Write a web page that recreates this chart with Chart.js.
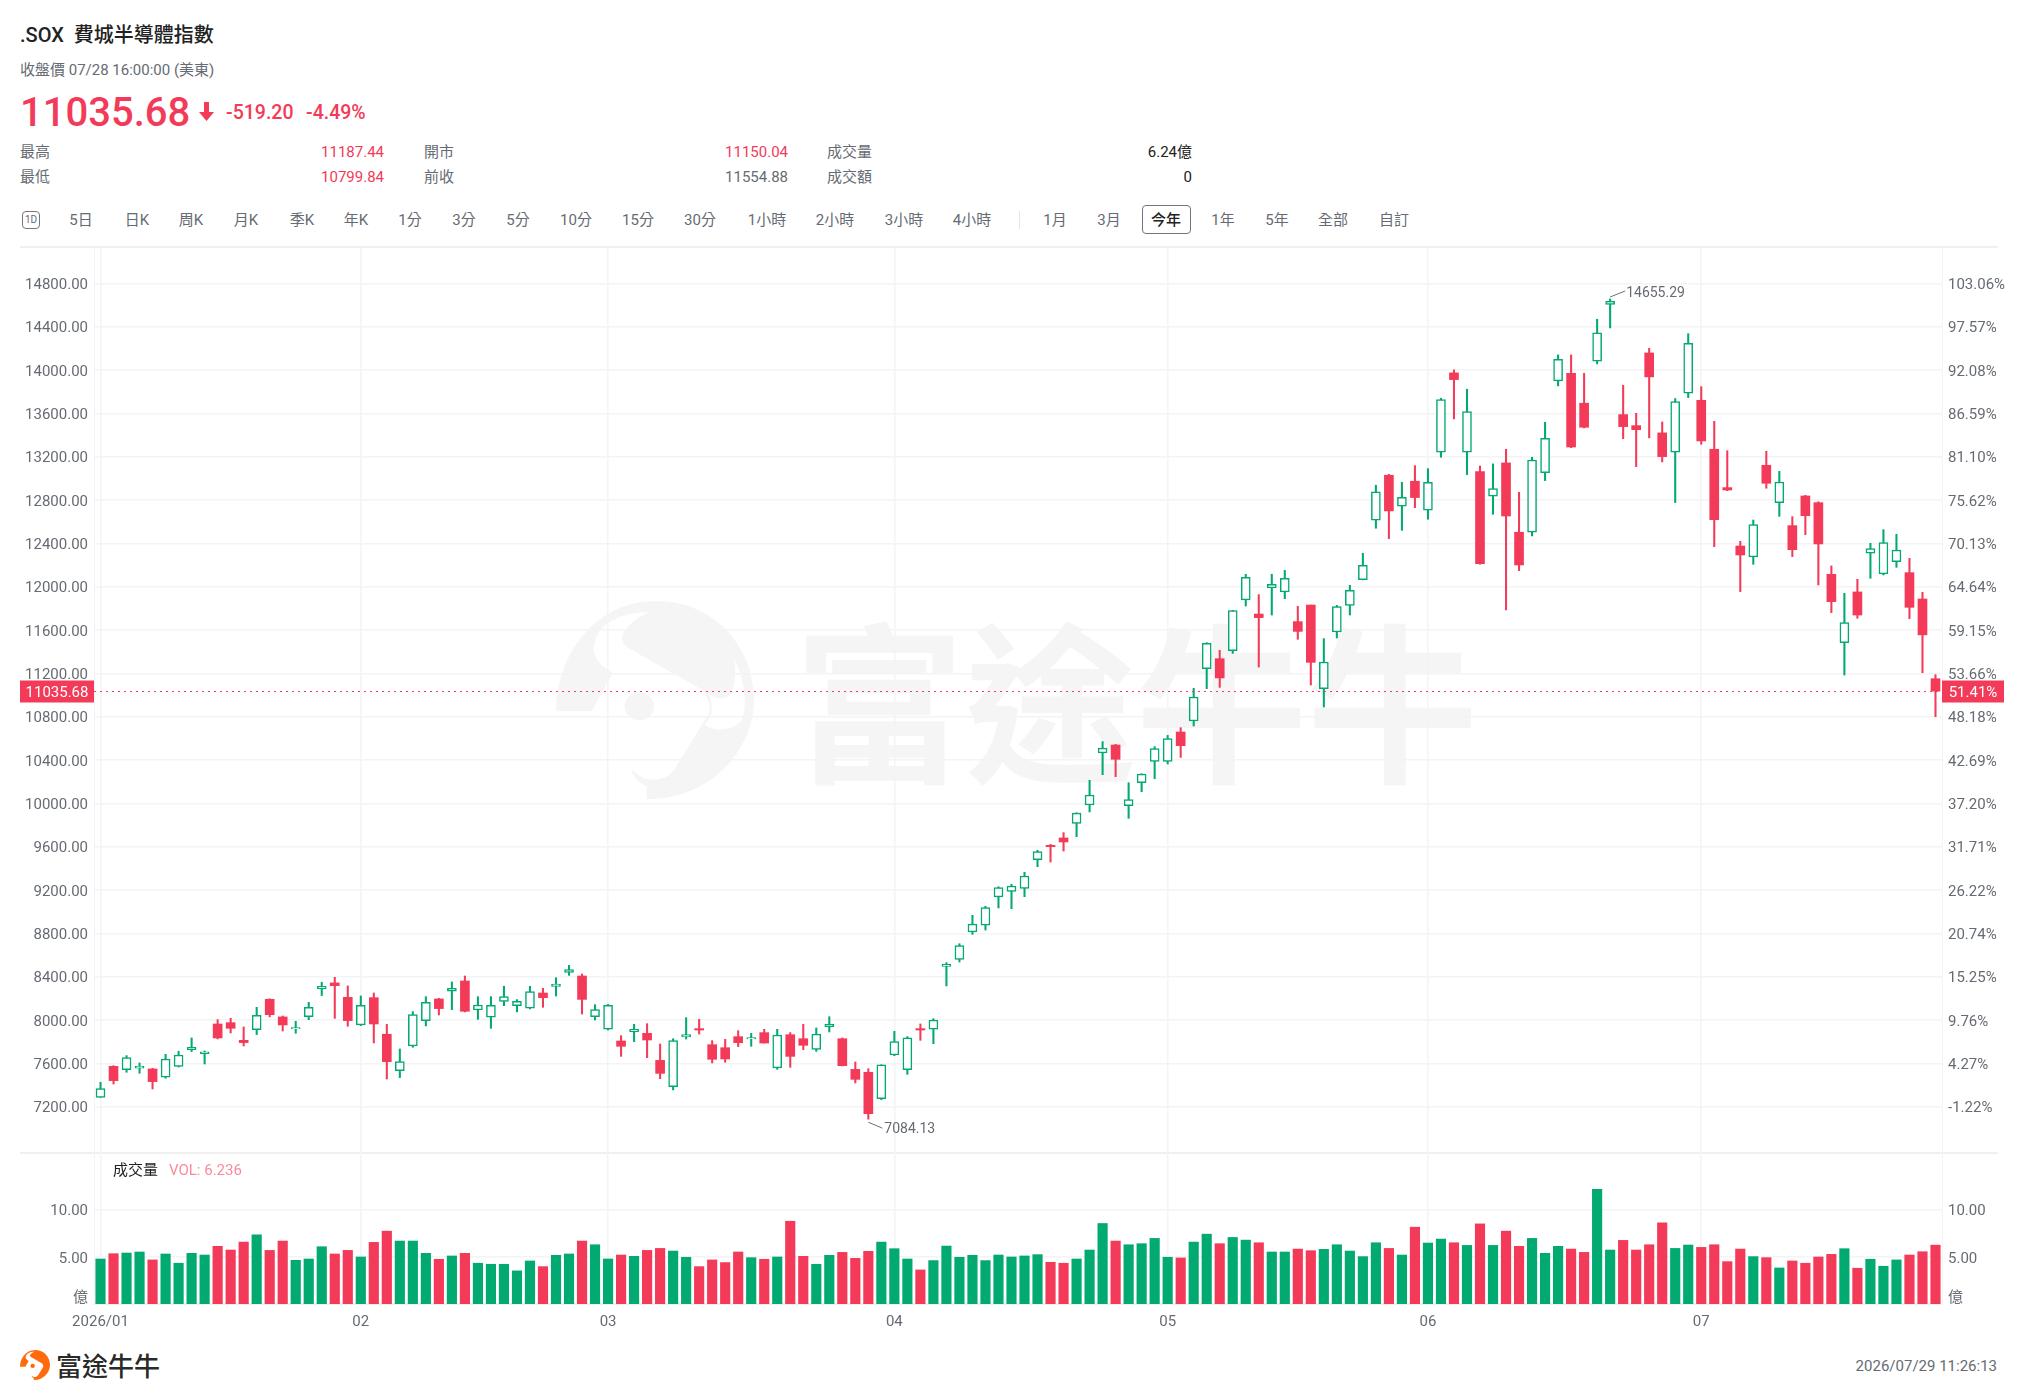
<!DOCTYPE html>
<html lang="zh-Hant">
<head>
<meta charset="utf-8">
<title>.SOX 費城半導體指數</title>
<script src="https://cdn.jsdelivr.net/npm/chart.js@4"></script>
<style>
  html, body { margin: 0; padding: 0; background: #fff; }
  body { width: 2018px; height: 1399px; position: relative; overflow: hidden;
         font-family: Roboto, "Noto Sans CJK TC", sans-serif; color: #666b73; font-size: 15px; }
  .t { position: absolute; white-space: nowrap; line-height: 20px; }
  .r { text-align: right; }
  .red { color: #f33a58; }
  .dark { color: #222; }
  .rule { position: absolute; left: 20px; width: 1978px; height: 2px; background: #f0f0f0; }
  .mark { position: absolute; font-family: "Noto Sans CJK SC"; font-weight: 700; color: #f5f5f5;
          font-size: 171px; line-height: 200px; letter-spacing: 0; white-space: nowrap; }
  canvas { position: absolute; left: 0; }
</style>
</head>
<body>
<svg style="position:absolute;left:556px;top:601px" width="198" height="198" viewBox="42 64 323 594" preserveAspectRatio="none">
  <g id="logoShape">
    <path fill="#f5f5f5" d="M205,64 C100,64 42,240 42,395 L100,395 L135,280 C105,250 100,210 105,190 C110,130 150,97 195,97 C165,120 150,155 150,175 C150,190 155,200 165,210 L280,330 C290,355 295,380 292,400 L240,555 C230,590 215,600 200,600 C185,600 175,585 165,570 C170,600 180,610 190,620 L190,658 C300,660 365,500 365,360 C365,200 300,64 205,64 Z"/>
    <path fill="#fff" d="M333,240 C350,300 355,380 345,420 C335,450 300,460 285,435 L295,405 C298,380 295,355 290,340 C300,358 320,365 328,340 C335,310 335,270 333,240 Z"/>
    <ellipse fill="#f5f5f5" cx="178" cy="380" rx="24" ry="42"/>
  </g>
</svg>
<div class="mark" style="left:794px;top:595px">富途牛牛</div>

<div class="t dark" style="left:20px;top:22px;font-size:20px;line-height:26px;font-weight:500">.SOX&nbsp; 費城半導體指數</div>
<div class="t" style="left:20px;top:60px">收盤價 07/28 16:00:00 (美東)</div>
<div class="t red" style="left:20px;top:88px;font-size:40px;line-height:50px;font-weight:500">11035.68</div>
<svg style="position:absolute;left:199px;top:102px" width="15" height="19"><path fill="#f33a58" d="M5 0H10V10H15L7.5 19L0 10H5Z"/></svg>
<div class="t red" style="left:226px;top:101px;font-size:19.5px;line-height:24px;font-weight:500">-519.20</div>
<div class="t red" style="left:306px;top:101px;font-size:19.5px;line-height:24px;font-weight:500">-4.49%</div>

<div class="t" style="left:20px;top:142px">最高</div>
<div class="t r red" style="right:1634px;top:142px">11187.44</div>
<div class="t" style="left:424px;top:142px">開市</div>
<div class="t r red" style="right:1230px;top:142px">11150.04</div>
<div class="t" style="left:827px;top:142px">成交量</div>
<div class="t r dark" style="right:826px;top:142px">6.24億</div>
<div class="t" style="left:20px;top:167px">最低</div>
<div class="t r red" style="right:1634px;top:167px">10799.84</div>
<div class="t" style="left:424px;top:167px">前收</div>
<div class="t r" style="right:1230px;top:167px">11554.88</div>
<div class="t" style="left:827px;top:167px">成交額</div>
<div class="t r dark" style="right:826px;top:167px">0</div>

<div id="toolbar"></div>
<div style="position:absolute;left:22px;top:211px;width:16px;height:16px;border:1px solid #777;border-radius:4px;font-size:10px;line-height:16px;text-align:center">1D</div>
<div style="position:absolute;left:1019px;top:211px;width:1px;height:18px;background:#e6e6e6"></div>
<div style="position:absolute;left:1142px;top:205px;width:47px;height:27px;border:1.5px solid #6f7680;border-radius:4px"></div>

<div class="rule" style="top:246px"></div>
<div class="rule" style="top:1152px"></div>
<canvas id="priceChart" width="2018" height="906" style="top:247px"></canvas>
<canvas id="volumeChart" width="2018" height="187" style="top:1153px"></canvas>

<div class="t dark" style="left:113px;top:1160px">成交量</div>
<div class="t" style="left:169px;top:1160px;color:#f98b9b">VOL: 6.236</div>

<svg style="position:absolute;left:20px;top:1350px" width="30" height="30" viewBox="42 64 323 594" preserveAspectRatio="none">
  <path fill="#ff6a0c" d="M205,64 C100,64 42,240 42,395 L100,395 L135,280 C105,250 100,210 105,190 C110,130 150,97 195,97 C165,120 150,155 150,175 C150,190 155,200 165,210 L280,330 C290,355 295,380 292,400 L240,555 C230,590 215,600 200,600 C185,600 175,585 165,570 C170,600 180,610 190,620 L190,658 C300,660 365,500 365,360 C365,200 300,64 205,64 Z"/>
  <ellipse fill="#ff6a0c" cx="178" cy="380" rx="24" ry="42"/>
</svg>
<div class="t" style="left:56px;top:1350px;font-family:'Noto Sans CJK SC';font-size:26px;line-height:30px;font-weight:500;color:#2a2a2a">富途牛牛</div>
<div class="t r" style="right:21px;top:1356px">2026/07/29 11:26:13</div>

<script>
// 日K 數據（讀圖估值）
const opens = [
  7286,7572,7542,7554,7548,7471,7572,7726,7689,7963,
  7975,7812,7911,8191,8028,7917,8031,8286,8342,8209,
  7954,8206,7868,7532,7760,7994,8194,8265,8360,8092,
  8025,8172,8132,8108,8249,8310,8440,8406,8030,7914,
  7806,7889,7877,7627,7384,7843,7920,7772,7744,7846,
  7824,7883,7557,7864,7827,7729,7935,7827,7544,7517,
  7274,7677,7541,7920,7914,8495,8560,8812,8874,9135,
  9187,9215,9480,9612,9680,9815,9984,10464,10538,9978,
  10190,10387,10387,10658,10760,11243,11335,11409,11877,11747,
  11987,11950,11677,11830,11058,11581,11827,12065,12613,13028,
  12742,12973,12705,13240,13973,13240,13062,12834,13142,12502,
  12502,13052,13899,13969,13693,14080,14606,13588,13486,14157,
  13419,13240,13785,13720,13268,12914,12375,12274,13120,12775,
  12563,12837,12775,12114,11483,11951,12308,12117,12231,12129,
  11886,11150.04
];
const highs = [
  7425,7578,7671,7603,7554,7683,7711,7834,7714,8003,
  8015,7935,8117,8195,8037,7988,8163,8348,8394,8314,
  8222,8249,7960,7732,8077,8215,8200,8351,8406,8215,
  8215,8311,8188,8311,8292,8390,8504,8424,8141,8144,
  7855,7960,7966,7778,7827,8021,8006,7809,7821,7901,
  7877,7914,7914,7883,7960,7926,8030,7834,7612,7550,
  7587,7895,7846,7963,8012,8529,8704,8966,9049,9230,
  9252,9363,9566,9621,9729,9913,10212,10569,10544,10190,
  10273,10523,10627,10698,11061,11483,11412,11781,12114,11926,
  12114,12150,11818,11830,11520,11827,12012,12308,12936,13037,
  12963,13117,13089,13739,14000,13822,13114,13133,13268,12871,
  13194,13517,14139,14139,13969,14468,14655.29,13859,13600,14200,
  13520,13736,14335,13846,13526,13255,12418,12615,13249,13064,
  12646,12843,12784,12191,11938,12068,12400,12526,12483,12261,
  11948,11187.44
];
const lows = [
  7286,7409,7517,7508,7363,7462,7566,7708,7594,7825,
  7880,7760,7865,8028,7898,7877,8003,8225,8015,7942,
  7948,7788,7455,7468,7748,7945,8046,8095,8074,8006,
  7923,8132,8074,8102,8117,8221,8412,8055,8000,7907,
  7664,7800,7652,7458,7354,7824,7870,7603,7609,7754,
  7757,7787,7544,7563,7726,7710,7889,7575,7418,7084.13,
  7264,7670,7498,7812,7781,8314,8535,8790,8830,9034,
  9027,9138,9415,9458,9560,9692,9920,10264,10246,9861,
  10107,10227,10363,10424,10713,11058,11070,11384,11821,11258,
  11738,11889,11514,11092,10889,11526,11738,12062,12539,12443,
  12520,12729,12622,13194,13548,13034,12206,12668,11785,12148,
  12468,12979,13853,13283,13465,14056,14388,13366,13108,13373,
  13151,12776,13745,13314,12369,12886,11954,12206,12908,12649,
  12277,12480,12015,11760,11184,11708,12077,12108,12178,11704,
  11206,10799.84
];
const closes = [
  7366,7440,7652,7575,7431,7640,7677,7748,7705,7834,
  7923,7791,8043,8049,7954,7929,8117,8311,8317,7994,
  8135,7963,7615,7615,8049,8163,8105,8292,8080,8138,
  8135,8215,8172,8262,8206,8332,8464,8190,8095,8135,
  7757,7914,7815,7507,7809,7864,7907,7637,7640,7790,
  7837,7787,7861,7664,7766,7870,7963,7578,7452,7135,
  7587,7800,7834,7907,8000,8514,8686,8886,9037,9221,
  9237,9329,9554,9600,9643,9910,10077,10510,10406,10034,
  10270,10504,10597,10532,10981,11477,11157,11778,12086,11714,
  12021,12077,11587,11301,11304,11815,11966,12197,12874,12699,
  12825,12822,12963,13726,13911,13616,12212,12905,12652,12200,
  13169,13369,14099,13289,13471,14342,14634,13477,13449,13936,
  13200,13708,14246,13345,12618,12892,12292,12572,12954,12966,
  12341,12655,12394,11861,11668,11738,12351,12406,12338,11809,
  11554.88,11035.68
];
// 成交量（億）
const volumes = [
  4.77,5.33,5.40,5.51,4.67,5.30,4.32,5.37,5.19,6.11,
  5.72,6.56,7.33,5.68,6.67,4.63,4.77,6.07,5.30,5.68,
  4.98,6.53,7.72,6.67,6.67,5.37,4.74,5.09,5.37,4.32,
  4.21,4.21,3.51,4.56,3.96,5.16,5.30,6.67,6.28,4.77,
  5.19,5.05,5.68,5.89,5.61,4.95,3.96,4.67,4.39,5.51,
  4.91,4.74,4.98,8.77,5.05,4.21,5.16,5.47,4.84,5.58,
  6.56,5.86,4.77,3.61,4.60,6.14,4.95,5.16,4.60,5.19,
  4.98,5.09,5.23,4.42,4.32,4.77,5.72,8.53,6.67,6.28,
  6.39,6.95,4.95,4.88,6.56,7.40,6.39,7.05,6.77,6.49,
  5.51,5.51,5.82,5.65,5.79,6.28,5.61,5.02,6.49,5.89,
  5.19,8.14,6.46,6.88,6.49,6.21,8.49,6.21,7.72,6.11,
  6.95,5.37,6.11,5.82,5.47,12.14,5.72,6.74,5.72,6.28,
  8.60,5.89,6.25,6.00,6.28,4.49,5.82,5.02,4.91,3.82,
  4.56,4.32,4.98,5.26,5.86,3.79,4.74,4.00,4.67,5.19,
  5.54,6.236
];
const monthLabels = ['2026/01', '02', '03', '04', '05', '06', '07'];
const monthDays = [20, 19, 22, 21, 20, 21, 19];
const priceTicks = [7200,7600,8000,8400,8800,9200,9600,10000,10400,10800,11200,11600,12000,12400,12800,13200,13600,14000,14400,14800];
const pctTicks = ['-1.22%','4.27%','9.76%','15.25%','20.74%','26.22%','31.71%','37.20%','42.69%','48.18%','53.66%','59.15%','64.64%','70.13%','75.62%','81.10%','86.59%','92.08%','97.57%','103.06%'];
const volumeTicks = [0.85, 5, 10];
const lastClose = 11035.68;
const lastPct = '51.41%';
const maxIndex = 116;
const minIndex = 59;
const toolbarItems = [['5日',81],['日K',137],['周K',191],['月K',246],['季K',302],['年K',356],['1分',410],['3分',464],['5分',518],['10分',576],['15分',638],['30分',700],['1小時',767],['2小時',835],['3小時',904],['4小時',972],['1月',1055],['3月',1109],['今年',1166],['1年',1223],['5年',1277],['全部',1333],['自訂',1394]];

const RED = '#f33a58';
const GREEN = '#02a970';
const GRID = '#f4f4f6';
const TEXT = '#666b73';
const FONT = 'Roboto, "Noto Sans CJK TC", sans-serif';

toolbarItems.forEach(([label, x]) => {
  const el = document.createElement('div');
  el.className = 't';
  el.textContent = label;
  el.style.left = x + 'px';
  el.style.top = '210px';
  el.style.transform = 'translateX(-50%)';
  if (label === '今年') { el.style.color = '#222'; el.style.fontWeight = 500; }
  document.getElementById('toolbar').appendChild(el);
});

const categories = [];
const monthStarts = [];
monthDays.forEach((n, m) => {
  monthStarts.push(categories.length);
  for (let d = 0; d < n; d++) categories.push(d === 0 ? monthLabels[m] : '');
});

const isUp = closes.map((c, i) => c >= opens[i]);
const candleColors = isUp.map(up => up ? GREEN : RED);
const monthGrid = ctx => monthStarts.includes(ctx.index) ? GRID : 'transparent';

// 固定軸寬，並去掉 Chart.js 為首尾刻度留的邊距
const fitY = width => s => { s.width = width; s.paddingTop = 0; s.paddingBottom = 0; };
const fitX = height => s => { s.height = height; s.paddingLeft = 0; s.paddingRight = 0; };
// 刻度文字下移 2px：空的第一行配 4px 行高
const tickFont = { family: FONT, size: 15, lineHeight: '4px' };
const nudge = text => ['', text];

const annotate = {
  id: 'annotate',
  afterDatasetsDraw(chart) {
    const { ctx, scales: { x, y }, chartArea } = chart;
    const py = Math.round(y.getPixelForValue(lastClose)) + 0.5;
    ctx.save();
    ctx.strokeStyle = RED;
    ctx.lineWidth = 1;
    ctx.setLineDash([2, 4]);
    ctx.beginPath();
    ctx.moveTo(chartArea.left, py);
    ctx.lineTo(chartArea.right, py);
    ctx.stroke();
    ctx.setLineDash([]);

    // 左右價格標籤
    ctx.fillStyle = RED;
    ctx.fillRect(20, py - 11, chartArea.left - 20, 22);
    ctx.fillRect(chartArea.right, py - 11, 62, 22);
    ctx.font = '15px ' + FONT;
    ctx.fillStyle = '#fff';
    ctx.textBaseline = 'middle';
    ctx.textAlign = 'center';
    ctx.fillText(lastClose.toFixed(2), (20 + chartArea.left) / 2, py + 2);
    ctx.fillText(lastPct, chartArea.right + 31, py + 2);

    // 最高、最低
    ctx.strokeStyle = '#6b6f76';
    ctx.fillStyle = TEXT;
    ctx.textAlign = 'left';
    ctx.font = '14px ' + FONT;
    const hx = x.getPixelForValue(maxIndex), hy = y.getPixelForValue(highs[maxIndex]) - 2;
    ctx.beginPath();
    ctx.moveTo(hx, hy);
    ctx.lineTo(hx + 15, hy - 6);
    ctx.stroke();
    ctx.fillText(highs[maxIndex].toFixed(2), hx + 16, hy - 3);
    const lx = x.getPixelForValue(minIndex), ly = y.getPixelForValue(lows[minIndex]) + 3;
    ctx.beginPath();
    ctx.moveTo(lx, ly);
    ctx.lineTo(lx + 14, ly + 6);
    ctx.stroke();
    ctx.fillText(lows[minIndex].toFixed(2), lx + 16, ly + 7);
    ctx.restore();
  }
};

const ctxPrice = document.getElementById('priceChart').getContext('2d');
const priceChart = new Chart(ctxPrice, {
  type: 'bar',
  data: {
    labels: categories,
    datasets: [{
      label: 'wick',
      data: lows.map((l, i) => [l, highs[i]]),
      backgroundColor: candleColors,
      barThickness: 1.4,
      grouped: false,
      order: 2
    }, {
      label: 'body',
      data: opens.map((o, i) => [o, closes[i]]),
      backgroundColor: isUp.map(up => up ? '#fff' : RED),
      borderColor: candleColors,
      borderWidth: isUp.map(up => up ? 1.5 : 0),
      borderSkipped: false,
      barThickness: 9,
      grouped: false,
      order: 1
    }]
  },
  options: {
    responsive: false,
    animation: false,
    layout: { padding: 0 },
    plugins: { legend: { display: false }, tooltip: { enabled: false } },
    scales: {
      x: {
        type: 'category',
        offset: true,
        afterFit: fitX(0),
        border: { display: false },
        grid: { offset: false, drawTicks: false, color: monthGrid, lineWidth: 1.5 },
        ticks: { display: false, autoSkip: false }
      },
      y: {
        position: 'left',
        min: 6772,
        max: 15135,
        afterFit: fitY(94),
        afterBuildTicks: s => { s.ticks = priceTicks.map(value => ({ value })); },
        border: { color: GRID },
        grid: { color: GRID, lineWidth: 1.5, drawTicks: false },
        ticks: {
          autoSkip: false,
          padding: 6,
          color: TEXT,
          font: tickFont,
          callback: v => nudge(v.toFixed(2))
        }
      },
      yPct: {
        position: 'right',
        min: 6772,
        max: 15135,
        afterFit: fitY(76),
        afterBuildTicks: s => { s.ticks = priceTicks.map(value => ({ value })); },
        border: { color: GRID },
        grid: { display: false, drawTicks: false },
        ticks: {
          autoSkip: false,
          padding: 6,
          color: TEXT,
          font: tickFont,
          callback: (v, i) => nudge(pctTicks[i])
        }
      }
    }
  },
  plugins: [annotate]
});

const ctxVolume = document.getElementById('volumeChart').getContext('2d');
const volumeLabel = v => nudge(v < 1 ? '億' : v.toFixed(2));
const volumeChart = new Chart(ctxVolume, {
  type: 'bar',
  data: {
    labels: categories,
    datasets: [{
      label: 'VOL',
      data: volumes,
      backgroundColor: candleColors,
      barThickness: 9.5
    }]
  },
  options: {
    responsive: false,
    animation: false,
    layout: { padding: 0 },
    plugins: { legend: { display: false }, tooltip: { enabled: false } },
    scales: {
      x: {
        type: 'category',
        offset: true,
        afterFit: fitX(36),
        border: { color: '#f0f0f0', width: 2 },
        grid: { offset: false, drawTicks: false, color: monthGrid, lineWidth: 1.5 },
        ticks: {
          autoSkip: false,
          maxRotation: 0,
          padding: 9,
          color: TEXT,
          font: { family: FONT, size: 15 },
          callback: (v, i) => categories[i]
        }
      },
      y: {
        position: 'left',
        min: 0,
        max: 16,
        afterFit: fitY(94),
        afterBuildTicks: s => { s.ticks = volumeTicks.map(value => ({ value })); },
        border: { color: GRID },
        grid: { color: ctx => ctx.tick.value < 1 ? 'transparent' : GRID, lineWidth: 1.5, drawTicks: false },
        ticks: { autoSkip: false, padding: 6, color: TEXT, font: tickFont, callback: volumeLabel }
      },
      yRight: {
        position: 'right',
        min: 0,
        max: 16,
        afterFit: fitY(76),
        afterBuildTicks: s => { s.ticks = volumeTicks.map(value => ({ value })); },
        border: { color: GRID },
        grid: { display: false, drawTicks: false },
        ticks: { autoSkip: false, padding: 6, color: TEXT, font: tickFont, callback: volumeLabel }
      }
    }
  }
});
</script>
</body>
</html>
